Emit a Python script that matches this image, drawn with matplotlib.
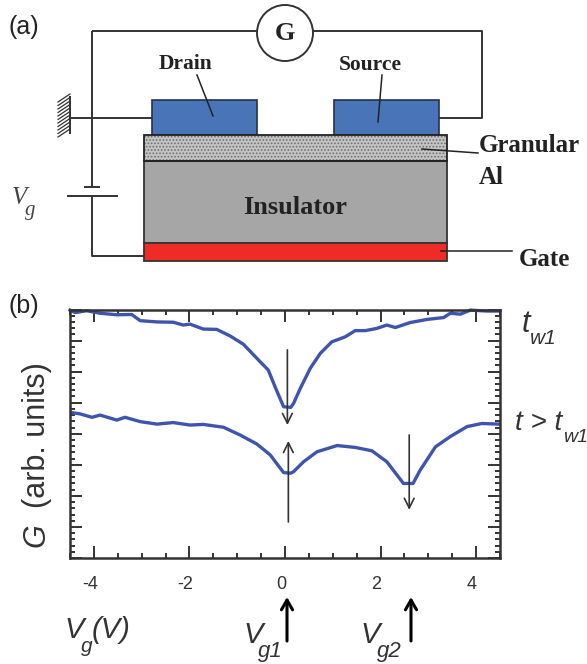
import numpy as np
import matplotlib
matplotlib.use('Agg')
import matplotlib.pyplot as plt
from matplotlib.patches import Rectangle, Circle
from matplotlib.ticker import MultipleLocator
from matplotlib.transforms import ScaledTranslation

plt.rcParams['font.family'] = ['Liberation Sans', 'DejaVu Sans']
plt.rcParams['axes.unicode_minus'] = False

# curve, tw1
vg1 = [-4.50, -4.39, -4.15, -3.87, -3.52, -3.21, -3.03, -2.68, -2.34, -2.13, -1.99, -1.71, -1.43, -1.15, -0.87, -0.59,
       -0.35, -0.21, -0.03, 0.12, 0.18, 0.32, 0.53, 0.74, 0.98, 1.26, 1.47, 1.68, 1.92, 2.13, 2.31, 2.62, 2.97, 3.32,
       3.46, 3.67, 3.88, 4.23, 4.49]
g1 = [7.98, 7.90, 7.96, 7.88, 7.83, 7.84, 7.64, 7.60, 7.59, 7.50, 7.53, 7.37, 7.36, 7.15, 6.88, 6.43,
      6.05, 5.52, 4.87, 4.85, 4.98, 5.46, 6.11, 6.59, 6.96, 7.12, 7.32, 7.32, 7.39, 7.50, 7.42, 7.58, 7.68, 7.74,
      7.88, 7.85, 7.98, 7.95, 7.95]
# t > tw1
vg2 = [-4.50, -4.29, -4.04, -3.87, -3.52, -3.35, -3.03, -2.68, -2.34, -1.99, -1.71, -1.29, -0.94, -0.59, -0.31, -0.03,
       0.12, 0.18, 0.39, 0.67, 1.09, 1.47, 1.82, 2.13, 2.48, 2.68, 2.83, 3.15, 3.46, 3.81, 4.12, 4.49]
g2 = [4.69, 4.64, 4.53, 4.60, 4.44, 4.53, 4.39, 4.31, 4.36, 4.28, 4.30, 4.21, 3.96, 3.67, 3.32, 2.75,
      2.73, 2.78, 3.10, 3.42, 3.62, 3.56, 3.45, 3.10, 2.40, 2.40, 2.83, 3.58, 3.91, 4.23, 4.33, 4.31]
xticks = [-4, -2, 0, 2, 4]

W, H = 587, 664
fig = plt.figure(figsize=(W / 100, H / 100), dpi=100)

# whole-figure axes in pixels for the schematic and labels
bg = fig.add_axes([0, 0, 1, 1])
bg.set_xlim(0, W)
bg.set_ylim(H, 0)
bg.axis('off')

wire = dict(color='#333333', lw=1.4, solid_capstyle='butt', zorder=1)
bg.plot([92, 92, 258], [118 - 87, 31, 31], **wire)
bg.plot([313, 482, 482, 439], [31, 31, 118, 118], **wire)
bg.plot([92, 92], [31, 187], **wire)
bg.plot([84, 100], [187, 187], **wire)
bg.plot([67, 118], [196, 196], **wire)
bg.plot([92, 92, 144], [196, 256, 256], **wire)
bg.plot([70, 152], [118, 118], **wire)
bg.plot([70, 70], [96, 134], **wire)
for y in np.arange(97, 135, 3.5):
    bg.plot([58, 70], [y + 5, y - 3], color='#333333', lw=0.9, zorder=1)

bg.add_patch(Circle((285, 33), 28, fc='white', ec='#333333', lw=1.4, zorder=3))
for x0 in [152, 334]:
    bg.add_patch(Rectangle((x0, 100), 105, 35, fc='#4a74b8', ec='#26324a', lw=1.2, zorder=2))
plt.rcParams['hatch.linewidth'] = 0.8
bg.add_patch(Rectangle((144, 135), 303, 26, fc='#c4c4c4', ec='#6e6e6e', hatch='.....', lw=0, zorder=2))
bg.add_patch(Rectangle((144, 135), 303, 26, fc='none', ec='#222222', lw=1.3, zorder=3))
bg.add_patch(Rectangle((144, 161), 303, 82, fc='#a6a6a6', ec='#333333', lw=1.3, zorder=2))
bg.add_patch(Rectangle((144, 243), 303, 18, fc='#ee2b24', ec='#333333', lw=1.3, zorder=2))

lead = dict(color='#222222', lw=1.1, zorder=4)
bg.plot([197, 213], [75, 116], **lead)
bg.plot([382, 378], [75, 122], **lead)
bg.plot([422, 478], [149, 153], **lead)
bg.plot([441, 512], [251, 251], **lead)

serif = dict(family=['Liberation Serif', 'DejaVu Serif'], weight='bold', color='#222222', zorder=5)
bg.text(285, 34, 'G', fontsize=19, ha='center', va='center', **serif)
bg.text(186, 64, 'Drain', fontsize=15.5, ha='center', va='center', **serif)
bg.text(370, 65, 'Source', fontsize=15.5, ha='center', va='center', **serif)
bg.text(295, 208, 'Insulator', fontsize=19, ha='center', va='center', **serif)
bg.text(479, 145, 'Granular', fontsize=18, ha='left', va='center', **serif)
bg.text(479, 177, 'Al', fontsize=18, ha='left', va='center', **serif)
bg.text(519, 259, 'Gate', fontsize=18, ha='left', va='center', **serif)
bg.text(12, 198, 'V', fontsize=18, style='italic', family=['Liberation Serif'], color='#444444', ha='left', va='center')
bg.text(25, 210, 'g', fontsize=15, style='italic', family=['Liberation Serif'], color='#444444', ha='left', va='center')
bg.text(8, 27, '(a)', fontsize=18, color='#222222', ha='left', va='center')
bg.text(8, 306, '(b)', fontsize=18, color='#222222', ha='left', va='center')

# panel b
ax = fig.add_axes([70 / W, 1 - 558 / H, 430 / W, 248.5 / H])
ax.patch.set_alpha(0)
ax.plot(vg1, g1, color='#3f55ad', lw=2.4, clip_on=False)
ax.plot(vg2, g2, color='#3f55ad', lw=2.4)
ax.set_xlim(-4.5, 4.5)
ax.set_ylim(0, 8)
ax.set_xticks(xticks)
ax.xaxis.set_minor_locator(MultipleLocator(0.5))
ax.yaxis.set_major_locator(MultipleLocator(1))
ax.yaxis.set_minor_locator(MultipleLocator(0.2))
ax.set_yticklabels([])
ax.tick_params(which='major', direction='in', length=8.5, width=1.4, top=True, right=True, color='#333333')
ax.tick_params(which='minor', direction='in', length=3.5, width=1.4, top=True, right=True, color='#333333')
ax.tick_params(axis='x', labelsize=13, pad=13, labelcolor='#333333')
shift = ScaledTranslation(-3 / 72, 0, fig.dpi_scale_trans)
for lab in ax.get_xticklabels():
    lab.set_transform(lab.get_transform() + shift)
for s in ax.spines.values():
    s.set_linewidth(1.8)
    s.set_color('#333333')

thin = dict(arrowstyle='->,head_width=0.35,head_length=0.7', color='#333333', lw=1.2, shrinkA=0, shrinkB=0)
ax.annotate('', xy=(0.05, 4.28), xytext=(0.05, 6.7), arrowprops=thin)
ax.annotate('', xy=(0.07, 3.77), xytext=(0.07, 1.16), arrowprops=thin)
ax.annotate('', xy=(2.6, 1.55), xytext=(2.6, 3.96), arrowprops=thin)

thick = dict(arrowstyle='->,head_width=0.4,head_length=0.7', color='black', lw=2.2, shrinkA=0, shrinkB=0)
bg.annotate('', xy=(287, 597), xytext=(287, 641), arrowprops=thick)
bg.annotate('', xy=(411, 597), xytext=(411, 641), arrowprops=thick)

sans = dict(color='#333333', va='center', ha='left')
ital = dict(style='italic', **sans)
bg.text(37, 435, '(arb. units)', fontsize=22, rotation=90, color='#333333', ha='center', va='center')
bg.text(37, 535, 'G', fontsize=22, rotation=90, style='italic', color='#333333', ha='center', va='center')
bg.text(64, 630, 'V', fontsize=21, **ital)
bg.text(81, 647, 'g', fontsize=15, **ital)
bg.text(92, 630, '(V)', fontsize=21, **ital)
bg.text(243, 635, 'V', fontsize=21, **ital)
bg.text(258, 652, 'g1', fontsize=16, **ital)
bg.text(360, 635, 'V', fontsize=21, **ital)
bg.text(377, 652, 'g2', fontsize=16, **ital)
bg.text(522, 324, 't', fontsize=22, **ital)
bg.text(530, 339, 'w1', fontsize=15, **ital)
bg.text(515, 423, 't > t', fontsize=20, **ital)
bg.text(563, 438, 'w1', fontsize=14, **ital)

fig.savefig('out.png', dpi=100)
